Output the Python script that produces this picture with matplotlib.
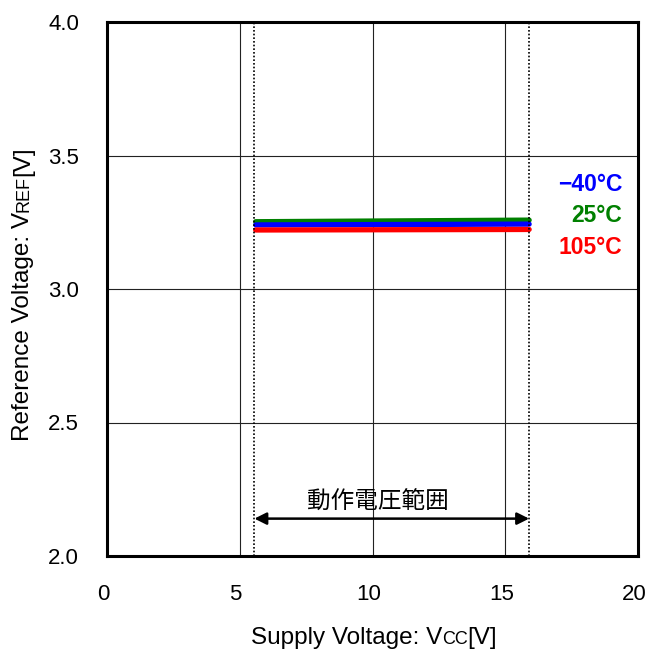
import numpy as np
import matplotlib
matplotlib.use("Agg")
import matplotlib.pyplot as plt
from matplotlib.transforms import ScaledTranslation

plt.rcParams['font.family'] = ['Liberation Sans', 'Noto Sans CJK JP', 'DejaVu Sans']

# supply voltage sweep (V) and VREF per temperature
vcc = [5.6, 15.9]
vref_m40 = [3.240, 3.243]
vref_25 = [3.252, 3.258]
vref_105 = [3.221, 3.223]

temps = ['\u221240\u00b0C', '25\u00b0C', '105\u00b0C']
colors = ['#0000ff', '#008000', '#ff0000']
label_y = [3.393, 3.277, 3.157]

range_lo, range_hi = 5.55, 15.9
range_label = '動作電圧範囲'

fig = plt.figure(figsize=(6.49, 6.57), dpi=100)
ax = fig.add_axes([107 / 649, 1 - 556 / 657, 531 / 649, 534 / 657])

ax.set_xlim(0, 20)
ax.set_ylim(2.0, 4.0)
ax.set_xticks([0, 5, 10, 15, 20])
ax.set_yticks([2.0, 2.5, 3.0, 3.5, 4.0])
ax.set_yticklabels(['2.0', '2.5', '3.0', '3.5', '4.0'])
ax.tick_params(length=0, labelsize=16, pad=20)
ax.grid(True, color='#222222', linewidth=0.8)
ax.set_axisbelow(True)
for s in ax.spines.values():
    s.set_linewidth(2.2)
shift = ScaledTranslation(-4 / 100, 0, fig.dpi_scale_trans)
for lbl in ax.get_xticklabels():
    lbl.set_transform(lbl.get_transform() + shift)

for ys, c in [(vref_25, colors[1]), (vref_m40, colors[0]), (vref_105, colors[2])]:
    ax.plot(vcc, ys, color=c, linewidth=3.8, solid_capstyle='round')

for t, c, y in zip(temps, colors, label_y):
    ax.text(19.4, y, t, color=c, fontsize=16.5, fontweight='bold', ha='right', va='center')

# operating range markers
for xv in (range_lo, range_hi):
    ax.axvline(xv, color='black', linestyle=(0, (1, 1.2)), linewidth=1.2)
ax.annotate('', xy=(range_lo, 2.14), xytext=(range_hi, 2.14),
            arrowprops=dict(arrowstyle='<|-|>', color='black', lw=1.8,
                            mutation_scale=18, shrinkA=0, shrinkB=0))
ax.text(10.2, 2.2, range_label, fontsize=17, ha='center', va='center',
        family=['Noto Sans CJK JP', 'DejaVu Sans'])


def label_parts(parts, x, y, rotation=0):
    # draw a label piece by piece so the small-caps subscripts sit inline
    fig.canvas.draw()
    r = fig.canvas.get_renderer()
    widths = []
    for s, fs in parts:
        t = fig.text(0, 0, s, fontsize=fs)
        widths.append(t.get_window_extent(r).width)
        t.remove()
    total = sum(widths)
    pos = -total / 2
    for (s, fs), w in zip(parts, widths):
        c = pos + w / 2
        if rotation == 0:
            px, py = x + c, y
        else:
            px, py = x, y + c
        fig.text(px / 649, py / 657, s, fontsize=fs, rotation=rotation,
                 ha='center', va='baseline', rotation_mode='anchor')
        pos += w


label_parts([('Supply Voltage: V', 17.5), ('CC', 13), ('[V]', 17.5)], 374, 657 - 644)
label_parts([('Reference Voltage: V', 17.5), ('REF', 13), ('[V]', 17.5)], 29, 657 - 294, rotation=90)

fig.savefig('out.png', dpi=100)
